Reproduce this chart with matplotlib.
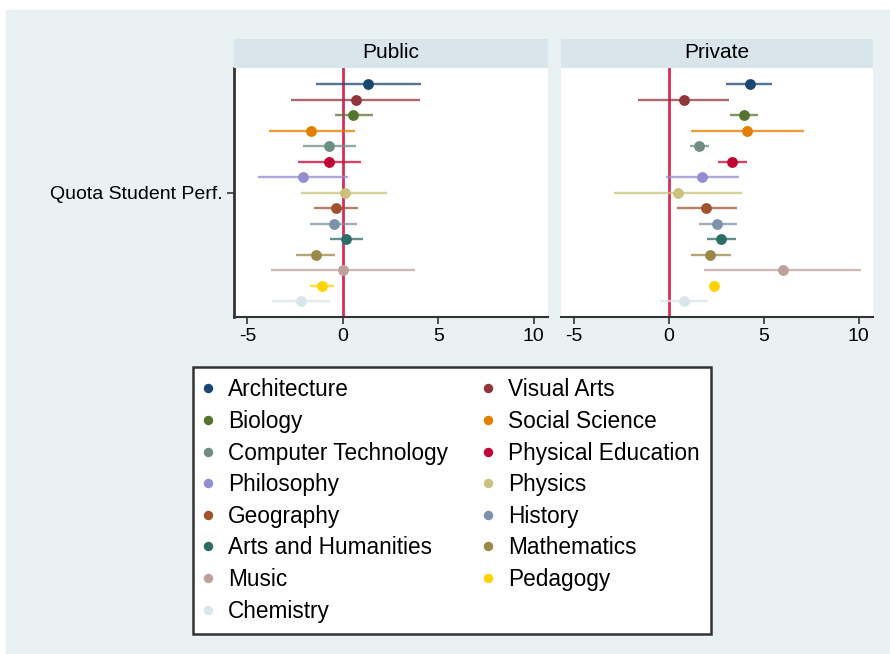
import matplotlib
matplotlib.use('Agg')
import matplotlib.pyplot as plt
from matplotlib.patches import Rectangle
from matplotlib.lines import Line2D

plt.rcParams['font.family'] = ['Liberation Sans', 'DejaVu Sans']
plt.rcParams['axes.unicode_minus'] = False

# fields, in plotting order (top to bottom)
fields = [
    'Architecture', 'Visual Arts', 'Biology', 'Social Science',
    'Computer Technology', 'Physical Education', 'Philosophy', 'Physics',
    'Geography', 'History', 'Arts and Humanities', 'Mathematics',
    'Music', 'Pedagogy', 'Chemistry',
]
colors = [
    '#1a476f', '#90353b', '#55752f', '#e37e00',
    '#6e8e84', '#c10534', '#938dd2', '#cac27e',
    '#a0522d', '#7b92a8', '#2d6d66', '#9c8847',
    '#bfa19c', '#ffd200', '#d9e6eb',
]

public_est = [1.32, 0.67, 0.56, -1.64, -0.72, -0.72, -2.11, 0.09,
              -0.35, -0.46, 0.18, -1.43, 0.00, -1.07, -2.20]
public_lo = [-1.43, -2.69, -0.39, -3.89, -2.08, -2.34, -4.44, -2.20,
             -1.50, -1.71, -0.67, -2.43, -3.77, -1.73, -3.71]
public_hi = [4.12, 4.03, 1.57, 0.63, 0.70, 0.95, 0.25, 2.32,
             0.79, 0.74, 1.06, -0.42, 3.77, -0.44, -0.67]

private_est = [4.24, 0.77, 3.95, 4.13, 1.58, 3.32, 1.74, 0.46,
               1.97, 2.53, 2.76, 2.18, 5.99, 2.37, 0.77]
private_lo = [2.99, -1.62, 3.22, 1.18, 1.12, 2.58, -0.18, -2.93,
              0.40, 1.56, 1.99, 1.14, 1.85, 2.09, -0.47]
private_hi = [5.43, 3.15, 4.69, 7.10, 2.09, 4.11, 3.67, 3.85,
              3.57, 3.57, 3.55, 3.25, 10.14, 2.65, 2.06]

panels = ['Public', 'Private']
xticks = [-5, 0, 5, 10]
ylabel = 'Quota Student Perf.'

W, H = 890, 654
fig = plt.figure(figsize=(W / 100, H / 100), dpi=100, facecolor='white')
bg = '#e9f1f3'
fig.patches.append(Rectangle((6 / W, 0), 1 - 6 / W, 1 - 10 / H,
                             transform=fig.transFigure, color=bg, zorder=-5))


def px(x0, y0, x1, y1):
    return [x0 / W, 1 - y1 / H, (x1 - x0) / W, (y1 - y0) / H]


panel_px = [(234, 548), (561, 873)]
data = [(public_est, public_lo, public_hi), (private_est, private_lo, private_hi)]
rows = list(range(1, len(fields) + 1))

for k, (name, (x0, x1), (est, lo, hi)) in enumerate(zip(panels, panel_px, data)):
    ax = fig.add_axes(px(x0, 68, x1, 317))
    ax.set_facecolor('white')
    ax.axvline(0, color='#d6305a', lw=2.0, zorder=1)
    for r, e, l, h, c in zip(rows, est, lo, hi, colors):
        ax.plot([l, h], [r, r], color=c, lw=1.7, alpha=0.75,
                solid_capstyle='butt', zorder=2)
        ax.plot(e, r, 'o', color=c, ms=7.8, mec='none', zorder=3)
    ax.set_xlim(-5.7, 10.75)
    ax.set_ylim(16.0, -0.05)
    ax.set_xticks(xticks)
    ax.set_xticklabels([str(t) for t in xticks], fontsize=14)
    ax.tick_params(axis='x', length=5, width=1.2, color='#333333', pad=3)
    for s in ('top', 'right'):
        ax.spines[s].set_visible(False)
    ax.spines['bottom'].set_color('#333333')
    ax.spines['bottom'].set_linewidth(1.5)
    if k == 0:
        ax.spines['left'].set_color('#333333')
        ax.spines['left'].set_linewidth(2.0)
        ax.set_yticks([8])
        ax.set_yticklabels([ylabel], fontsize=14)
        ax.tick_params(axis='y', length=5, width=1.2, color='#333333', pad=3)
    else:
        ax.spines['left'].set_visible(False)
        ax.set_yticks([])

    hdr = fig.add_axes(px(x0, 39, x1, 68))
    hdr.set_facecolor('#d8e5eb')
    hdr.set_xticks([])
    hdr.set_yticks([])
    for s in hdr.spines.values():
        s.set_visible(False)
    hdr.text(0.5, 0.55, name, ha='center', va='center', fontsize=15,
             transform=hdr.transAxes)

# legend, filled row by row as in the reference
handles = [Line2D([], [], marker='o', ls='none', color=c, ms=6.8, mec='none')
           for c in colors]
order = list(range(0, len(fields), 2)) + list(range(1, len(fields), 2))
leg = fig.legend([handles[i] for i in order], [fields[i] for i in order],
                 ncol=2, loc='upper left', mode='expand',
                 bbox_to_anchor=(193 / W, 1 - 632 / H, 518 / W, 265 / H),
                 borderaxespad=0.0,
                 fontsize=16.3, handlelength=0.3, handletextpad=0.75,
                 labelspacing=0.38, columnspacing=1.0, borderpad=0.5,
                 fancybox=False, shadow=False, frameon=True, framealpha=1.0)
frame = leg.get_frame()
frame.set_edgecolor('#333333')
frame.set_linewidth(1.8)
frame.set_facecolor('white')

fig.savefig('out.png', dpi=100, facecolor=fig.get_facecolor())
